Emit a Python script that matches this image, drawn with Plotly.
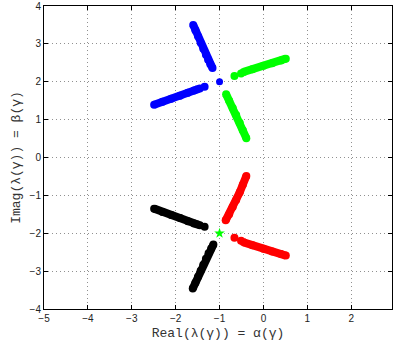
import plotly.graph_objects as go

# ---- data (eigenvalue branches) ----
blue_up_x = [-1.60, -1.55, -1.49, -1.43, -1.37, -1.31, -1.26, -1.21, -1.16]
blue_up_y = [3.50, 3.36, 3.20, 3.03, 2.87, 2.71, 2.58, 2.46, 2.36]
blue_lo_x = [-2.49, -2.30, -2.10, -1.90, -1.72, -1.58, -1.50]
blue_lo_y = [1.39, 1.47, 1.55, 1.63, 1.71, 1.77, 1.80]
blue_sp_x = [-1.45, -1.34]
blue_sp_y = [1.82, 1.87]
blue_c_x = [-1.0]
blue_c_y = [2.0]

green_up_x = [-0.45, -0.25, 0.00, 0.20, 0.40, 0.51]
green_up_y = [2.26, 2.33, 2.42, 2.49, 2.56, 2.61]
green_sp_x = [-0.66, -0.51]
green_sp_y = [2.15, 2.22]
green_lo_x = [-0.85, -0.78, -0.70, -0.62, -0.54, -0.47, -0.39]
green_lo_y = [1.67, 1.50, 1.31, 1.12, 0.92, 0.72, 0.51]
green_c_x = [-1.0]
green_c_y = [-2.0]

red_up_x = [-0.86, -0.78, -0.70, -0.62, -0.54, -0.47, -0.39]
red_up_y = [-1.66, -1.50, -1.31, -1.12, -0.92, -0.72, -0.49]
red_lo_x = [-0.45, -0.25, 0.00, 0.20, 0.40, 0.51]
red_lo_y = [-2.24, -2.32, -2.41, -2.48, -2.55, -2.59]
red_sp_x = [-0.66, -0.51]
red_sp_y = [-2.12, -2.20]

black_lo_x = [-1.61, -1.55, -1.49, -1.43, -1.37, -1.31, -1.25, -1.19, -1.14]
black_lo_y = [-3.46, -3.31, -3.15, -2.99, -2.83, -2.67, -2.53, -2.40, -2.30]
black_up_x = [-2.49, -2.30, -2.10, -1.90, -1.72, -1.58, -1.50]
black_up_y = [-1.35, -1.44, -1.52, -1.60, -1.68, -1.74, -1.77]
black_sp_x = [-1.45, -1.34]
black_sp_y = [-1.79, -1.83]

x_ticks = [-5, -4, -3, -2, -1, 0, 1, 2]
y_ticks = [-4, -3, -2, -1, 0, 1, 2, 3, 4]

fig = go.Figure()

def dense(x, y, color):
    fig.add_trace(go.Scatter(x=x, y=y, mode="lines+markers",
                             line=dict(color=color, width=8),
                             marker=dict(color=color, size=8, symbol="circle",
                                         line=dict(width=0))))

def sparse(x, y, color, symbol="circle", size=8):
    fig.add_trace(go.Scatter(x=x, y=y, mode="markers",
                             marker=dict(color=color, size=size, symbol=symbol,
                                         line=dict(width=0))))

dense(blue_up_x, blue_up_y, "#0000ff")
dense(blue_lo_x, blue_lo_y, "#0000ff")
sparse(blue_sp_x, blue_sp_y, "#0000ff")
sparse(blue_c_x, blue_c_y, "#0000ff", "circle", 7)

dense(green_up_x, green_up_y, "#00ff00")
sparse(green_sp_x, green_sp_y, "#00ff00")
dense(green_lo_x, green_lo_y, "#00ff00")
sparse(green_c_x, green_c_y, "#00ff00", "star", 8)

dense(red_up_x, red_up_y, "#ff0000")
dense(red_lo_x, red_lo_y, "#ff0000")
sparse(red_sp_x, red_sp_y, "#ff0000")

dense(black_lo_x, black_lo_y, "#000000")
dense(black_up_x, black_up_y, "#000000")
sparse(black_sp_x, black_sp_y, "#000000")

axis_common = dict(
    showline=True, linecolor="black", linewidth=1, mirror="ticks",
    ticks="inside", ticklen=4, tickcolor="black",
    showgrid=True, gridcolor="#909090", griddash="1px,3px", gridwidth=1,
    zeroline=False, ticklabeloverflow="allow",
    tickfont=dict(family="Liberation Sans, Arial", size=10, color="#222222"),
)

fig.update_layout(
    width=393, height=349,
    margin=dict(l=44, r=0, t=2, b=40),
    paper_bgcolor="white", plot_bgcolor="white",
    showlegend=False,
    xaxis=dict(range=[-5, 2.93], tickvals=x_ticks,
               ticktext=[("\u2212" + str(-v)) if v < 0 else str(v) for v in x_ticks],
               title=dict(text="Real(\u03bb(\u03b3)) = \u03b1(\u03b3)",
                          font=dict(family="Liberation Mono, Courier New", size=13, color="#333333"),
                          standoff=4),
               **axis_common),
    yaxis=dict(range=[-4, 4], tickvals=y_ticks,
               ticktext=[("\u2212" + str(-v)) if v < 0 else str(v) for v in y_ticks],
               title=dict(text="Imag(\u03bb(\u03b3)) = \u03b2(\u03b3)",
                          font=dict(family="Liberation Mono, Courier New", size=13, color="#333333"),
                          standoff=6),
               **axis_common),
)

fig.write_html("out.html")
